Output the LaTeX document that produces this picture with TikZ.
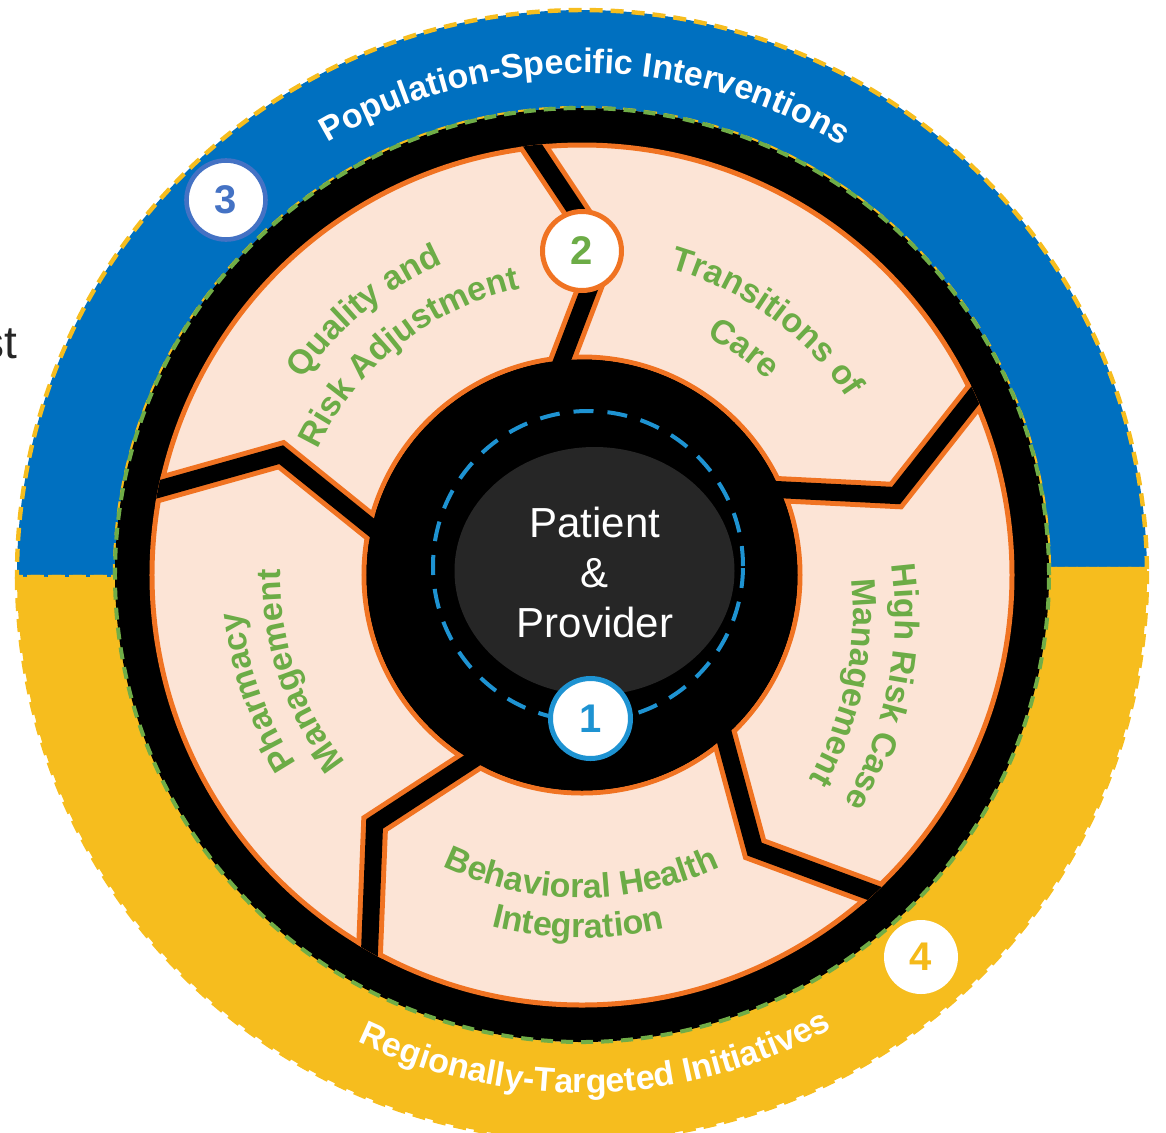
\documentclass[tikz,border=0pt]{standalone}
\usepackage{fontspec}
\setmainfont{Liberation Sans}
\usetikzlibrary{calc,decorations.text}

\definecolor{bandblue}{HTML}{0070C0}
\definecolor{bandyellow}{HTML}{F6BD1E}
\definecolor{peach}{HTML}{FCE4D6}
\definecolor{ringorange}{HTML}{F07322}
\definecolor{labelgreen}{HTML}{6CAC46}
\definecolor{dashgreen}{HTML}{70AD47}
\definecolor{corebg}{HTML}{262626}
\definecolor{coreblue}{HTML}{1E93D2}
\definecolor{stepblue}{HTML}{4472C4}
\definecolor{stepyellow}{HTML}{F5BA1A}

\newcommand{\segfont}{\fontsize{17}{20}\selectfont\bfseries\color{labelgreen}}
\newcommand{\bandfont}{\fontsize{17}{20}\selectfont\bfseries\color{white}}

% text on a circular arc, letters facing away from the centre
% #1 centre, #2 middle angle, #3 baseline radius, #4 font, #5 text
\newcommand{\outerarctext}[5]{%
  \path[shift={(#1)}, decorate,
        decoration={text along path, text align=center, text={|#4|#5}}]
    (#2+50:#3) arc[start angle=#2+50, end angle=#2-50, radius=#3];}
% text on a circular arc, letters facing the centre
\newcommand{\innerarctext}[5]{%
  \path[shift={(#1)}, decorate,
        decoration={text along path, text align=center, text={|#4|#5}}]
    (#2-50:#3) arc[start angle=#2-50, end angle=#2+50, radius=#3];}

\tikzset{
  banddash/.style={draw=bandyellow, line width=2.2pt, dash pattern=on 6.5pt off 4pt},
  badge/.style={circle, fill=white, line width=2.5pt, minimum size=#1, inner sep=0pt,
                font=\fontsize{20}{24}\selectfont\bfseries},
  badge/.default=40pt,
}

\begin{document}
\begin{tikzpicture}[x=0.5pt, y=0.5pt, line join=miter]
\useasboundingbox (-582,-557) rectangle (584,575);

% side text
\node[anchor=base east, inner sep=0pt, text=black!85,
      font=\fontsize{23}{27}\selectfont] (side) at (-564,217) {st};

% outer bands
\path[fill=bandblue, banddash]
  (0.6:565) arc[start angle=0.6, end angle=180.2, radius=565]
  -- (180.25:467) arc[start angle=180.25, end angle=0.74, radius=467] -- cycle;
\path[fill=bandyellow, banddash]
  (180.2:565) arc[start angle=180.2, end angle=360.6, radius=565]
  -- (360.74:467) arc[start angle=360.74, end angle=180.25, radius=467] -- cycle;

% black ring
\fill[black] (0,0) circle (467);
\draw[dashgreen, line width=2pt, dash pattern=on 6pt off 4pt] (0,0) circle (467);

% segment annulus
\path[fill=peach, even odd rule] (0,0) circle (430) (0,0) circle (218);
\draw[ringorange, line width=2.5pt] (0,0) circle (430) (0,0) circle (218);

% separators between the five segments
\begin{scope}
  \clip (0,0) circle (432.5);
  \foreach \ang [count=\n] in {95,23,-49,-121,-193} {
    \coordinate (gk\n) at (\ang-8.8:324);
    \coordinate (gi\n) at ($(gk\n)!1.25!(\ang:218)$);
    \coordinate (go\n) at ($(gk\n)!1.25!(\ang+1.4:430)$);
    \draw[ringorange, line width=13.5pt] (gi\n) -- (gk\n) -- (go\n);
    \draw[black, line width=8.5pt] (gi\n) -- (gk\n) -- (go\n);
  }
\end{scope}
\fill[black] (0,0) circle (215.5);

% core
\fill[corebg] (12.5,4) ellipse [x radius=140, y radius=124];
\draw[coreblue, line width=2pt, dash pattern=on 10pt off 7pt] (6,9) circle (155);
\node[text=white, align=center, inner sep=0pt,
      font=\fontsize{21}{25.2}\selectfont] (core) at (13,2.5) {Patient\\\&\\Provider};

% segment labels
\outerarctext{0,0}{129.5}{341}{\segfont}{Quality and}
\outerarctext{0,0}{128.4}{293}{\segfont}{Risk Adjustment}
\outerarctext{0,0}{53.9}{319}{\segfont}{Transitions of}
\outerarctext{0,0}{54.4}{269}{\segfont}{Care}
\outerarctext{-60,-40}{-11.25}{373}{\segfont}{High Risk Case}
\outerarctext{-60,-40}{-11.8}{331}{\segfont}{Management}
\outerarctext{0,0}{199.8}{342}{\segfont}{Pharmacy}
\outerarctext{0,0}{198.7}{302}{\segfont}{Management}
\innerarctext{0,0}{269.9}{323}{\segfont}{Behavioral Health}
\innerarctext{0,0}{269.4}{363}{\segfont}{Integration}

% band labels
\outerarctext{0,0}{89.65}{502}{\bandfont}{Population-Specific Interventions}
\innerarctext{0,0}{271.6}{518}{\bandfont}{Regionally-Targeted Initiatives}

% numbered badges
\node[badge=40pt, draw=coreblue, text=coreblue] (b1) at (8.5,-143.5) {1};
\node[badge=39.5pt, draw=ringorange, text=labelgreen] (b2) at (0,324) {2};
\node[badge=39.5pt, draw=stepblue, line width=2.3pt, text=stepblue] (b3) at (-356,375) {3};
\node[badge=37pt, draw=none, text=stepyellow] (b4) at (339,-382) {4};
\end{tikzpicture}
\end{document}
